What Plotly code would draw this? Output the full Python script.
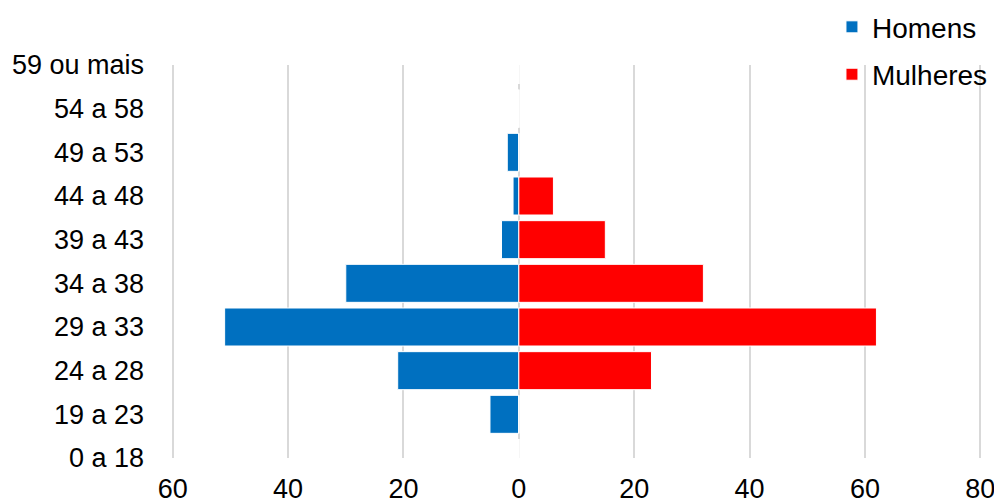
import plotly.graph_objects as go

categorias = ["0 a 18", "19 a 23", "24 a 28", "29 a 33", "34 a 38",
              "39 a 43", "44 a 48", "49 a 53", "54 a 58", "59 ou mais"]
homens = [0, 5, 21, 51, 30, 3, 1, 2, 0, 0]
mulheres = [0, 0, 23, 62, 32, 15, 6, 0, 0, 0]

tick_vals = [-60, -40, -20, 0, 20, 40, 60, 80]
tick_text = ["60", "40", "20", "0", "20", "40", "60", "80"]

fig = go.Figure()
fig.add_trace(go.Bar(
    y=categorias, x=[-v for v in homens], name="Homens", orientation="h",
    marker=dict(color="#0070C0", line=dict(color="white", width=1)),
    width=0.87, legendgroup="h",
))
fig.add_trace(go.Bar(
    y=categorias, x=mulheres, name="Mulheres", orientation="h",
    marker=dict(color="#FF0000", line=dict(color="white", width=1)),
    width=0.87, legendgroup="m",
))

fig.update_layout(
    width=994, height=495,
    margin=dict(l=163, r=20, t=57, b=45, autoexpand=False),
    barmode="relative",
    plot_bgcolor="white", paper_bgcolor="white",
    font=dict(family="Liberation Sans, Arial, sans-serif", size=27, color="#000000"),
    showlegend=True,
    legend=dict(x=0.815, y=1.16, xanchor="left", yanchor="top",
                traceorder="grouped", tracegroupgap=8,
                font=dict(size=28), bgcolor="rgba(0,0,0,0)"),
    xaxis=dict(range=[-60.3, 80.3], tickvals=tick_vals, ticktext=tick_text,
               showgrid=True, gridcolor="#D9D9D9", gridwidth=1.5,
               zeroline=True, zerolinecolor="#D9D9D9", zerolinewidth=1.5,
               showline=False, ticks="", ticklabelstandoff=12, automargin=False),
    yaxis=dict(type="category", categoryorder="array", categoryarray=categorias,
               range=[0, 9], showgrid=False, zeroline=False, showline=False,
               ticks="", ticklabelstandoff=26, automargin=False),
)

fig.write_html("out.html")
